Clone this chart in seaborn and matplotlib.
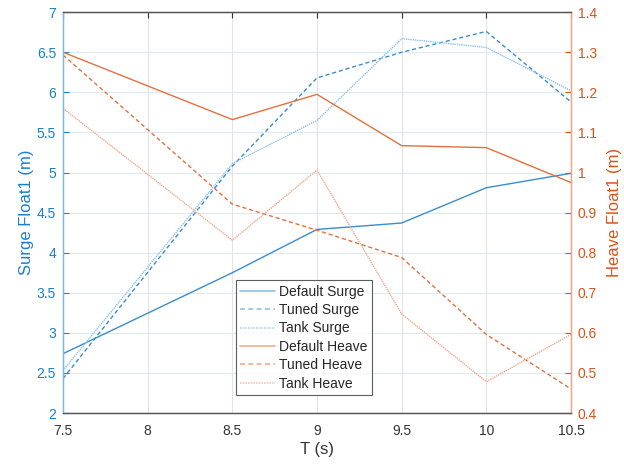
import matplotlib
matplotlib.use("Agg")
import matplotlib.pyplot as plt
import seaborn as sns
from matplotlib.lines import Line2D

T = [7.5, 8.5, 9.0, 9.5, 10.0, 10.5]
default_surge = [2.74, 3.75, 4.29, 4.37, 4.81, 4.99]
tuned_surge = [2.43, 5.08, 6.18, 6.50, 6.76, 5.88]
tank_surge = [2.53, 5.11, 5.65, 6.67, 6.56, 6.02]
default_heave = [1.30, 1.132, 1.195, 1.067, 1.062, 0.975]
tuned_heave = [1.293, 0.921, 0.856, 0.788, 0.596, 0.46]
tank_heave = [1.16, 0.831, 1.006, 0.647, 0.478, 0.596]

legend_labels = ["Default Surge", "Tuned Surge", "Tank Surge",
                 "Default Heave", "Tuned Heave", "Tank Heave"]

sns.set_style("white")
plt.rcParams["font.family"] = ["Liberation Sans", "DejaVu Sans"]

orange = "#D95319"
lblue = "#1A7FC9"

fig = plt.figure(figsize=(6.24, 4.68), dpi=100)
ax = fig.add_axes([0.101, 0.1175, 0.814, 0.8565])
ax2 = ax.twinx()

dash = (0, (3, 2))
dot = (0, (1, 0.6))

sns.lineplot(x=T, y=default_surge, ax=ax, color="#3A8CCC", lw=1.0)
sns.lineplot(x=T, y=tuned_surge, ax=ax, color="#3A8CCC", lw=1.0, linestyle=dash)
sns.lineplot(x=T, y=tank_surge, ax=ax, color="#8EC2E8", lw=1.0, linestyle=dot)
sns.lineplot(x=T, y=default_heave, ax=ax2, color="#E2703F", lw=1.0)
sns.lineplot(x=T, y=tuned_heave, ax=ax2, color="#E2703F", lw=1.0, linestyle=dash)
sns.lineplot(x=T, y=tank_heave, ax=ax2, color="#F2A98C", lw=1.0, linestyle=dot)

ax.set_xlim(7.5, 10.5)
ax.set_ylim(2, 7)
ax2.set_ylim(0.4, 1.4)
ax.set_xticks([7.5, 8, 8.5, 9, 9.5, 10, 10.5])
ax.set_xticklabels(["7.5", "8", "8.5", "9", "9.5", "10", "10.5"])
ax.set_yticks([2, 2.5, 3, 3.5, 4, 4.5, 5, 5.5, 6, 6.5, 7])
ax.set_yticklabels(["2", "2.5", "3", "3.5", "4", "4.5", "5", "5.5", "6", "6.5", "7"])
ax2.set_yticks([0.4, 0.5, 0.6, 0.7, 0.8, 0.9, 1.0, 1.1, 1.2, 1.3, 1.4])
ax2.set_yticklabels(["0.4", "0.5", "0.6", "0.7", "0.8", "0.9", "1", "1.1", "1.2", "1.3", "1.4"])

ax.grid(True, axis="x", color="#E3E3E3", lw=0.8)
ax.grid(True, axis="y", color="#DCEBF7", lw=0.8)
ax.set_axisbelow(True)

ax.set_xlabel("T (s)", fontsize=12, color="#333333", labelpad=3)
ax.set_ylabel("Surge Float1 (m)", fontsize=12, color=lblue, labelpad=2)
ax2.set_ylabel("Heave Float1 (m)", fontsize=12, color=orange, labelpad=7)

ax.tick_params(axis="x", direction="in", top=True, length=4, labelsize=10, colors="#333333", pad=8)
ax.tick_params(axis="y", direction="in", length=4, labelsize=10, colors=lblue, pad=5)
ax2.tick_params(axis="y", direction="in", length=4, labelsize=10, colors=orange, pad=5)

for a in (ax, ax2):
    a.spines["top"].set_color("#555555")
    a.spines["bottom"].set_color("#555555")
    a.spines["left"].set_color("#7DB8E3")
    a.spines["right"].set_color("#F0A585")
    for s in a.spines.values():
        s.set_linewidth(0.9)

handles = [
    Line2D([], [], color="#8EC2E8", lw=1.2),
    Line2D([], [], color="#8EC2E8", lw=1.2, linestyle=dash),
    Line2D([], [], color="#B5D8F0", lw=1.2, linestyle=dot),
    Line2D([], [], color="#F2A98C", lw=1.2),
    Line2D([], [], color="#F2A98C", lw=1.2, linestyle=dash),
    Line2D([], [], color="#F7C6B2", lw=1.2, linestyle=dot),
]
leg = ax2.legend(handles, legend_labels, loc="lower left", bbox_to_anchor=(0.341, 0.045),
                 borderaxespad=0, fontsize=10, frameon=True, fancybox=False,
                 handlelength=2.5, handletextpad=0.3, labelspacing=0.32, borderpad=0.3)
leg.get_frame().set_edgecolor("#333333")
leg.get_frame().set_linewidth(0.8)

plt.savefig("out.png", dpi=100)
